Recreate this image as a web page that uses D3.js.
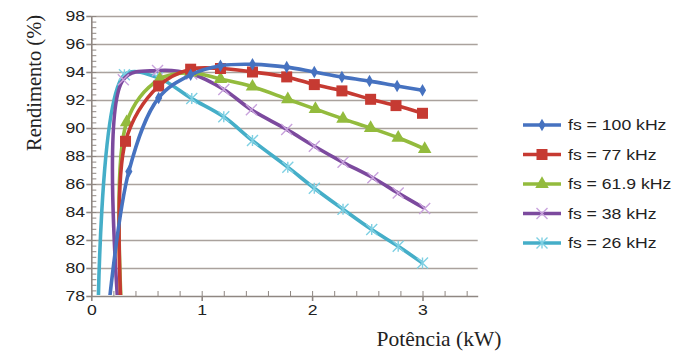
<!DOCTYPE html>
<html>
<head>
<meta charset="utf-8">
<script src="https://cdn.jsdelivr.net/npm/d3@7"></script>
<style>
  body { margin: 0; background: #fff; }
  svg { display: block; }
</style>
</head>
<body>
<div id="chart"></div>
<script>
// power (kW) and efficiency (%) for each switching frequency
const seriesNames = ["fs = 100 kHz", "fs = 77 kHz", "fs = 61.9 kHz", "fs = 38 kHz", "fs = 26 kHz"];

const power100 = [0.11, 0.34, 0.61, 0.9, 1.17, 1.46, 1.77, 2.02, 2.27, 2.52, 2.77, 3.0];
const eff100 = [73.5, 86.9, 92.15, 93.8, 94.45, 94.55, 94.35, 94.0, 93.65, 93.35, 93.0, 92.7];

const power77 = [0.29, 0.31, 0.61, 0.9, 1.17, 1.46, 1.77, 2.02, 2.27, 2.53, 2.76, 3.0];
const eff77 = [74.0, 89.05, 93.0, 94.2, 94.25, 94.0, 93.65, 93.1, 92.65, 92.05, 91.6, 91.05];

const power619 = [0.295, 0.32, 0.62, 0.9, 1.17, 1.46, 1.78, 2.03, 2.28, 2.53, 2.78, 3.02];
const eff619 = [74.0, 90.4, 93.5, 93.95, 93.5, 92.95, 92.05, 91.35, 90.65, 90.0, 89.3, 88.5];

const power38 = [0.275, 0.29, 0.6, 0.91, 1.2, 1.45, 1.77, 2.02, 2.28, 2.55, 2.78, 3.02];
const eff38 = [74.0, 93.45, 94.1, 93.85, 92.75, 91.3, 89.9, 88.7, 87.55, 86.45, 85.35, 84.25];

const power26 = [0.06, 0.3, 0.6, 0.91, 1.2, 1.46, 1.78, 2.02, 2.28, 2.54, 2.78, 3.0];
const eff26 = [75.5, 93.8, 93.6, 92.1, 90.8, 89.1, 87.2, 85.7, 84.2, 82.75, 81.55, 80.35];

const yMajorTicks = [78, 80, 82, 84, 86, 88, 90, 92, 94, 96, 98];
const xMajorTicks = [0, 1, 2, 3];

const colors = ["#4672c0", "#c63a32", "#93bb3d", "#7c4a9e", "#45aec8"];
const markerColors = ["#4672c0", "#c63a32", "#93bb3d", "#c9a3dd", "#7fd0e3"];
const markerTypes = ["diamond", "square", "triangle", "x", "star"];

const powers = [power100, power77, power619, power38, power26];
const effs = [eff100, eff77, eff619, eff38, eff26];

const width = 676, height = 351;
const plotLeft = 91.3, plotRight = 477.7, plotTop = 16, plotBottom = 296;
const stretch = 1.26;

const svg = d3.select("#chart").append("svg")
  .attr("width", width)
  .attr("height", height)
  .style("background-color", "white");

const x = d3.scaleLinear().domain([0, 3.5]).range([plotLeft, plotRight]);
const y = d3.scaleLinear().domain([78, 98]).range([plotBottom, plotTop]);

const gridColor = "#aaa29d";
const axisColor = "#8f8782";

// horizontal gridlines
svg.append("g")
  .attr("transform", "translate(" + plotLeft + ",0)")
  .call(d3.axisLeft(y).tickValues(yMajorTicks.slice(1)).tickSize(-(plotRight - plotLeft)).tickFormat(""))
  .call(g => g.select(".domain").remove())
  .call(g => g.selectAll("line").attr("stroke", gridColor).attr("stroke-width", 1.6));

// y minor ticks (inside)
svg.append("g")
  .attr("transform", "translate(" + plotLeft + ",0)")
  .call(d3.axisLeft(y).tickValues(d3.range(78, 98.01, 0.4)).tickSize(-5).tickFormat(""))
  .call(g => g.select(".domain").remove())
  .call(g => g.selectAll("line").attr("stroke", axisColor).attr("stroke-width", 1));

// y axis
svg.append("g")
  .attr("transform", "translate(" + plotLeft + ",0)")
  .call(d3.axisLeft(y).tickValues(yMajorTicks).tickSize(5).tickSizeOuter(0))
  .call(g => g.select(".domain").attr("stroke", axisColor).attr("stroke-width", 1.6))
  .call(g => g.selectAll("line").attr("stroke", axisColor).attr("stroke-width", 1.6))
  .call(g => g.selectAll("text")
    .attr("x", -5)
    .attr("transform", "scale(" + stretch + ",1)")
    .attr("font-family", "Liberation Sans, Arial, sans-serif")
    .attr("font-size", 14)
    .attr("fill", "#222"));

// x minor ticks (inside)
svg.append("g")
  .attr("transform", "translate(0," + plotBottom + ")")
  .call(d3.axisBottom(x).tickValues(d3.range(0, 3.45, 0.2)).tickSize(-5).tickFormat(""))
  .call(g => g.select(".domain").remove())
  .call(g => g.selectAll("line").attr("stroke", axisColor).attr("stroke-width", 1));

// x axis
svg.append("g")
  .attr("transform", "translate(0," + plotBottom + ")")
  .call(d3.axisBottom(x).tickValues(xMajorTicks).tickSize(5).tickSizeOuter(0).tickFormat(d3.format("d")))
  .call(g => g.select(".domain").attr("stroke", axisColor).attr("stroke-width", 1.6))
  .call(g => g.selectAll("line").attr("stroke", axisColor).attr("stroke-width", 1.6))
  .call(g => g.selectAll("text")
    .attr("y", 9)
    .attr("transform", "scale(" + stretch + ",1)")
    .attr("font-family", "Liberation Sans, Arial, sans-serif")
    .attr("font-size", 14)
    .attr("fill", "#222"));

// axis titles
svg.append("text")
  .attr("transform", "translate(41,83) rotate(-90)")
  .attr("text-anchor", "middle")
  .attr("font-family", "Liberation Serif, Times New Roman, serif")
  .attr("font-size", 20.5)
  .attr("fill", "#222")
  .text("Rendimento (%)");

svg.append("text")
  .attr("x", 439)
  .attr("y", 346)
  .attr("text-anchor", "middle")
  .attr("font-family", "Liberation Serif, Times New Roman, serif")
  .attr("font-size", 21.5)
  .attr("fill", "#222")
  .text("Potência (kW)");

// clip region for the plot
svg.append("clipPath").attr("id", "plot-clip")
  .append("rect")
  .attr("x", plotLeft + 1)
  .attr("y", 0)
  .attr("width", plotRight - plotLeft + 10)
  .attr("height", plotBottom - 1);

let drawMarker = (g, type, color, size) => {
  if (type === "diamond") {
    g.append("path").attr("d", d3.symbol(d3.symbolDiamond, size * size * 0.45)())
      .attr("fill", color);
  } else if (type === "square") {
    g.append("rect").attr("x", -size / 2).attr("y", -size / 2)
      .attr("width", size).attr("height", size).attr("fill", color);
  } else if (type === "triangle") {
    g.append("path").attr("d", d3.symbol(d3.symbolTriangle, size * size * 0.55)())
      .attr("fill", color);
  } else if (type === "x") {
    let r = size / 2;
    g.append("path").attr("d", `M${-r},${-r}L${r},${r}M${-r},${r}L${r},${-r}`)
      .attr("stroke", color).attr("stroke-width", 1.4).attr("fill", "none");
  } else if (type === "star") {
    let r = size / 2;
    g.append("path").attr("d", `M${-r},${-r}L${r},${r}M${-r},${r}L${r},${-r}M0,${-r}L0,${r}`)
      .attr("stroke", color).attr("stroke-width", 1.4).attr("fill", "none");
  }
};

const markerSizes = [10, 11, 12, 11, 11];

const plot = svg.append("g").attr("clip-path", "url(#plot-clip)");

const line = d3.line()
  .x(d => x(d[0]))
  .y(d => y(d[1]))
  .curve(d3.curveCatmullRom.alpha(0.5));

// draw series in reverse so the 100 kHz curve ends on top
d3.range(powers.length).reverse().forEach(i => {
  let pts = powers[i].map((p, j) => [p, effs[i][j]]);
  plot.append("path")
    .datum(pts)
    .attr("d", line)
    .attr("fill", "none")
    .attr("stroke", colors[i])
    .attr("stroke-width", 3.6)
    .attr("stroke-linejoin", "round");

  plot.selectAll(".m" + i)
    .data(pts)
    .enter()
    .append("g")
    .attr("class", "m" + i)
    .attr("transform", d => "translate(" + x(d[0]) + "," + y(d[1]) + ")")
    .each(function () {
      drawMarker(d3.select(this), markerTypes[i], markerColors[i], markerSizes[i]);
    });
});

// legend
const legendY = d3.scalePoint().domain(seriesNames).range([125, 243]);
const legend = svg.append("g");
seriesNames.forEach((name, i) => {
  let row = legend.append("g").attr("transform", "translate(0," + legendY(name) + ")");
  row.append("line")
    .attr("x1", 523).attr("x2", 561)
    .attr("stroke", colors[i]).attr("stroke-width", 3.6);
  drawMarker(row.append("g").attr("transform", "translate(542,0)"), markerTypes[i], markerColors[i], markerSizes[i]);
  row.append("text")
    .attr("transform", "translate(568,5) scale(" + stretch + ",1)")
    .attr("font-family", "Liberation Sans, Arial, sans-serif")
    .attr("font-size", 14)
    .attr("fill", "#222")
    .text(name);
});
</script>
</body>
</html>
